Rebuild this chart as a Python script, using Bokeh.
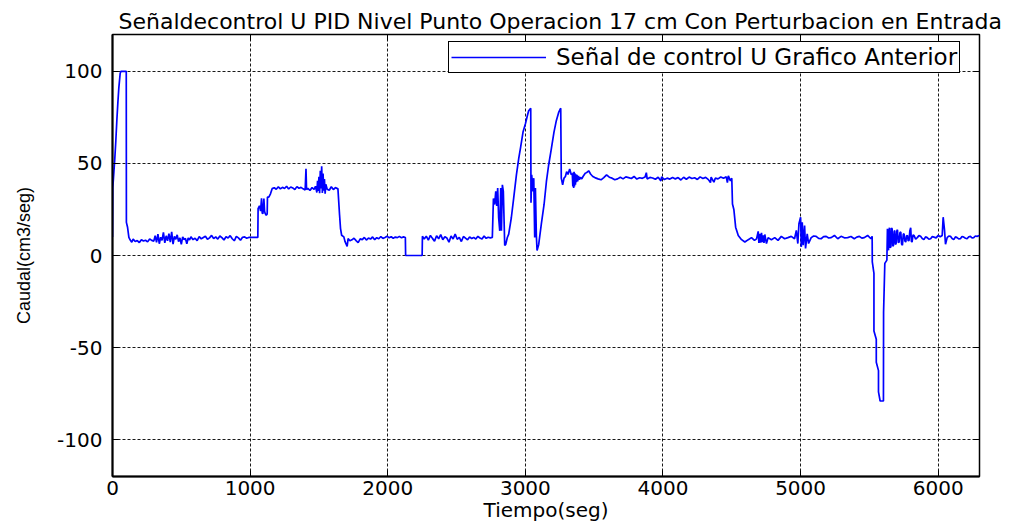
from bokeh.plotting import figure
from bokeh.models import Range1d, LinearAxis, FixedTicker, Legend, LegendItem, PrintfTickFormatter
from bokeh.embed import file_html
from bokeh.resources import INLINE

# ---------------- data ----------------
tiempo = [
    0, 2, 7, 17, 24, 32, 39, 46, 56, 61, 100, 101, 109, 119, 129,
    140, 150, 165, 180, 195, 210, 225, 240, 255, 270, 285, 300,
    310, 320, 330, 340, 350, 360, 370, 380, 390, 400, 410, 420, 430, 440, 450, 460,
    470, 480, 490, 500, 510, 520, 530, 540, 550, 560, 570,
    585, 600, 615, 630, 645, 660, 675, 690, 705, 720, 735, 750, 765, 780, 795, 810,
    825, 840, 855, 870, 885, 900, 915, 930, 945, 960, 975, 990, 1020, 1050,
    1056, 1058, 1068, 1076, 1083, 1088, 1093, 1100, 1105, 1110, 1117, 1124, 1126, 1136, 1148, 1160,
    1175, 1190, 1205, 1220, 1235, 1250, 1265, 1280, 1295, 1310, 1325, 1340, 1355, 1370, 1385,
    1400, 1406, 1410, 1420, 1435, 1450, 1465, 1475, 1485, 1490, 1495, 1500, 1505, 1510, 1515,
    1520, 1525, 1530, 1535, 1540, 1545, 1550, 1560, 1575, 1590, 1605, 1620, 1635,
    1638, 1650, 1657, 1665, 1681, 1690, 1705, 1712, 1725,
    1740, 1755, 1770, 1785, 1800, 1815, 1830, 1845, 1860, 1875, 1890, 1905, 1920, 1935, 1950,
    1965, 1980, 1995, 2010, 2025, 2040, 2055, 2070, 2085, 2100, 2115, 2128,
    2130, 2250,
    2252, 2265, 2280, 2295, 2310, 2325, 2340, 2355, 2370, 2385, 2400, 2415, 2430, 2445, 2460,
    2475, 2490, 2505, 2520, 2535, 2550, 2565, 2580, 2595, 2610, 2625, 2640, 2655, 2670, 2685,
    2700, 2715, 2730, 2745, 2760,
    2768, 2777, 2785, 2792, 2799, 2806, 2814, 2821, 2826, 2833, 2840, 2850, 2857, 2869, 2879,
    2898, 2915, 2935, 2952, 2966, 2983, 3000, 3015, 3024, 3039,
    3041, 3046, 3056, 3061, 3068, 3073, 3080, 3085, 3097, 3116, 3136, 3153, 3169, 3189, 3208,
    3225, 3242, 3257, 3261,
    3271, 3281, 3291, 3300, 3310, 3322, 3334, 3341, 3345, 3348, 3351, 3354, 3357, 3360, 3364,
    3367, 3371, 3375, 3380, 3386, 3393, 3400, 3410, 3419, 3435, 3445, 3460, 3475, 3490, 3505,
    3528, 3550, 3570, 3590, 3610, 3630, 3650, 3670, 3690, 3710, 3730, 3750, 3770, 3790, 3810,
    3830, 3850, 3870, 3879, 3885, 3905, 3925, 3945, 3965, 3985, 3990, 4010, 4030, 4050, 4070,
    4090, 4110, 4130, 4150, 4170, 4190, 4210, 4230, 4250, 4270, 4290, 4310, 4330, 4345, 4350,
    4370, 4380, 4400, 4420, 4440, 4460, 4468, 4475, 4490, 4500,
    4505, 4515, 4528, 4547, 4571, 4595, 4620, 4643, 4665, 4680,
    4692, 4697, 4704, 4710, 4716, 4722, 4728, 4734, 4740, 4752, 4764, 4788, 4812, 4836, 4860,
    4884, 4908, 4932, 4956, 4969, 4980, 4988, 5000, 5005, 5012, 5019, 5029, 5036, 5048, 5058,
    5077, 5095, 5113, 5131, 5149, 5167, 5186, 5204, 5222, 5246, 5270, 5294, 5318, 5342, 5366,
    5390, 5408, 5427, 5445, 5463, 5487, 5511, 5520,
    5521, 5533, 5533, 5550, 5550, 5566, 5566, 5578, 5602, 5603, 5612, 5627,
    5631, 5635, 5639, 5643, 5646, 5651, 5656, 5660, 5665, 5670, 5675, 5680, 5684, 5689, 5694,
    5699, 5704, 5710, 5716, 5722, 5728, 5734, 5740, 5746, 5752, 5758, 5764, 5770, 5776, 5782,
    5788, 5794, 5800, 5805, 5810, 5817, 5824, 5836, 5848, 5860, 5872, 5884, 5896, 5908, 5920,
    5932, 5945, 5957, 5969, 5985, 6000, 6015, 6029, 6036, 6046, 6053, 6065, 6077, 6089, 6101,
    6113, 6125, 6137, 6149, 6161, 6173, 6186, 6198, 6210, 6222, 6234, 6246, 6258, 6270, 6282,
    6300,
]

caudal = [
    10, 37, 42, 53, 62, 74, 83, 91, 99, 100, 100, 18, 15.5, 9.8, 8.4,
    7.2, 8.9, 7.6, 8.1, 7.0, 8.6, 7.9, 8.3, 7.4, 9.0, 8.2, 7.8,
    10.8, 7.1, 11.6, 6.4, 9.9, 8.2, 12.5, 6.9, 10.7, 8.0, 11.9, 7.3, 12.8, 6.2, 10.4, 8.8,
    11.2, 7.5, 9.6, 6.0, 10.1, 8.7, 9.2, 6.3, 9.5, 8.4, 10.2,
    8.6, 9.4, 8.1, 10.3, 9.0, 9.8, 10.5, 8.8, 9.6, 10.9, 9.2, 10.1, 8.9, 10.6, 9.7, 8.4,
    10.2, 9.5, 10.8, 9.1, 8.0, 10.4, 9.6, 8.3, 9.9, 10.1, 9.4, 9.8, 9.8, 9.8,
    9.8, 25.5, 27, 24.1, 31, 23, 22.7, 30.9, 24, 22.7, 21.8, 22.5, 31.7, 31.7, 33.5, 36.3,
    36.8, 36.0, 37.3, 36.2, 37.0, 36.4, 37.6, 36.1, 37.2, 36.7, 35.8, 37.4, 36.5, 37.0, 36.2,
    35.6, 47.1, 35.8, 36.4, 35.3, 36.9, 35.9, 37.6, 34.2, 40.5, 35.0, 42.8, 33.8, 46.0, 36.4,
    48.4, 34.0, 44.5, 35.2, 41.5, 33.6, 38.7, 36.0, 35.4, 37.3, 35.8, 36.9, 36.3,
    36.3, 22, 14.6, 11, 10.1, 7.5, 5.0, 9.2, 8.0,
    8.5, 9.4, 8.1, 7.0, 9.0, 8.6, 9.8, 8.4, 9.5, 8.9, 10.1, 8.6, 9.7, 9.1, 10.3,
    9.3, 9.8, 10.5, 9.6, 10.2, 9.4, 10.0, 9.7, 10.4, 9.6, 10.1, 9.8,
    0, 0,
    10.4, 9.0, 10.5, 8.4, 10.9, 9.3, 7.8, 10.7, 9.1, 11.3, 8.6, 10.2, 9.5, 7.2, 10.6,
    9.0, 11.6, 8.8, 9.9, 7.6, 10.3, 9.4, 8.5, 10.1, 9.2, 9.8, 8.9, 10.4, 9.5, 9.0,
    10.6, 9.3, 9.9, 9.6, 9.8,
    31, 27.7, 34.8, 26.9, 36.6, 20.5, 13.4, 36.6, 13.4, 38.4, 34.8, 5.4, 6.0, 9.8, 11.6,
    20.5, 31, 43.8, 52.7, 59, 67, 71.4, 76, 78.6, 80,
    28.6, 43.8, 34.8, 42, 9.8, 36.6, 10.7, 2.7, 6, 17, 27.7, 40.2, 49, 58, 67,
    73.2, 77.7, 80, 42,
    38.4, 42, 42.9, 45.5, 44, 47, 43.8, 44.6, 37.5, 45, 36.6, 45.5, 37.5, 44.6, 38.4,
    44.1, 39.8, 43.8, 40.2, 43.2, 41.1, 42.5, 41.6, 42.9, 44.6, 45.0, 46.0, 44.1, 42.9, 42.3,
    41.6, 41.1, 42.3, 43.8, 42.5, 42.0, 41.1, 41.6, 42.5, 41.6, 42.7, 42.3, 41.8, 42.9, 41.5,
    42.2, 41.9, 42.6, 45.0, 41.6, 42.4, 42.1, 41.4, 42.5, 40.5, 42.7, 41.2, 42.0, 41.5, 42.4,
    41.6, 42.3, 41.0, 42.5, 41.4, 42.6, 41.8, 42.2, 41.3, 42.7, 41.8, 42.4, 41.2, 39.6, 42.5,
    39.8, 42.0, 41.6, 42.6, 41.9, 42.7, 39.6, 43.2, 40.5, 42.0,
    28, 25, 15.4, 10.9, 8.6, 7.3, 8.6, 9.7, 8.2, 9.0,
    13.1, 6.8, 11.8, 7.0, 12.3, 7.3, 10.9, 6.9, 11.4, 6.5, 9.7, 8.6, 9.7, 8.2, 10.4,
    9.1, 9.7, 10.4, 9.1, 13.6, 6.5, 17.2, 20.8, 4.7, 18.1, 5.6, 16.3, 3.8, 11.8, 6.5,
    9.7, 10.6, 10.4, 9.3, 9.1, 10.2, 10.4, 9.5, 9.7, 10.9, 9.1, 10.4, 9.6, 9.7, 10.3,
    9.1, 10.0, 10.4, 9.4, 9.7, 10.9, 9.1, 10.4,
    -3.4, -9.7, -41, -45.5, -58, -62.5, -74, -79, -79, -31, -4.3, -2.5,
    14.5, 3.4, 2.9, 13.8, 15.1, 4.2, 4.7, 14.9, 14.5, 5.0, 5.6, 13.0, 13.6, 6.0, 6.5,
    13.2, 14.0, 7.0, 7.3, 12.5, 12.7, 6.2, 5.6, 11.5, 11.8, 7.9, 7.3, 10.6, 10.9, 8.0,
    8.2, 13.5, 15.1, 7.8, 7.3, 11.2, 10.9, 8.9, 9.7, 10.8, 10.4, 9.2, 8.6, 10.1, 9.7,
    8.9, 9.1, 10.3, 10.0, 9.6, 10.9, 10.2, 10.9, 20.8, 13.6, 6.1, 9.7, 10.6, 10.4, 9.2,
    8.6, 10.1, 9.7, 9.0, 9.1, 10.3, 10.0, 9.4, 9.1, 10.2, 10.4, 9.5, 9.7, 10.6, 10.4,
    10.9,
]

x_ticks = [0, 1000, 2000, 3000, 4000, 5000, 6000]
y_ticks = [-100, -50, 0, 50, 100]

titulo = "Señaldecontrol U PID Nivel Punto Operacion 17 cm Con Perturbacion en Entrada"
etiqueta_x = "Tiempo(seg)"
etiqueta_y = "Caudal(cm3/seg)"
leyenda = "Señal de control U Grafico Anterior"

FONT = "DejaVu Sans"

p = figure(
    frame_width=867, frame_height=442,
    x_range=Range1d(0, 6300), y_range=Range1d(-120, 120),
    output_backend="svg", toolbar_location=None,
    min_border_left=112, min_border_right=30, min_border_top=34, min_border_bottom=51,
    background_fill_color="white", border_fill_color="white",
)

p.title.text = titulo
p.title.text_font = FONT
p.title.text_font_size = "22px"
p.title.text_font_style = "normal"
p.title.text_color = "black"
p.title.align = "left"
p.title.offset = 6
p.title.standoff = 2

p.outline_line_color = "black"
p.outline_line_width = 1.5
p.outline_line_alpha = 1

r = p.line(tiempo, caudal, line_color="#0000ff", line_width=1.7)

for ax in (p.xaxis[0], p.yaxis[0]):
    ax.major_label_text_font = FONT
    ax.major_label_text_font_size = "20px"
    ax.major_label_text_color = "black"
    ax.major_tick_in = 6
    ax.major_tick_out = 0
    ax.minor_tick_in = 0
    ax.minor_tick_out = 0
    ax.axis_line_color = "black"
    ax.axis_line_width = 2
    ax.major_tick_line_color = "black"
    ax.axis_label_text_font_style = "normal"
    ax.axis_label_text_color = "black"
    ax.formatter = PrintfTickFormatter(format="%d")

p.xaxis[0].ticker = FixedTicker(ticks=x_ticks)
p.yaxis[0].ticker = FixedTicker(ticks=y_ticks)
p.xaxis[0].axis_label = etiqueta_x
p.xaxis[0].axis_label_text_font = FONT
p.xaxis[0].axis_label_text_font_size = "20px"
p.xaxis[0].major_label_standoff = 4
p.xaxis[0].axis_label_standoff = 0
p.yaxis[0].axis_label = etiqueta_y
p.yaxis[0].axis_label_text_font = "Liberation Sans"
p.yaxis[0].axis_label_text_font_size = "18px"
p.yaxis[0].major_label_standoff = 10
p.yaxis[0].axis_label_standoff = 20

# box axes on top and right (inward ticks only, no labels)
top_ax = LinearAxis(ticker=FixedTicker(ticks=x_ticks),
                    major_label_overrides={t: "" for t in x_ticks},
                    major_tick_in=6, major_tick_out=0, minor_tick_in=0, minor_tick_out=0,
                    axis_line_color=None, major_label_standoff=0)
right_ax = LinearAxis(ticker=FixedTicker(ticks=y_ticks),
                      major_label_overrides={t: "" for t in y_ticks},
                      major_tick_in=6, major_tick_out=0, minor_tick_in=0, minor_tick_out=0,
                      axis_line_color=None, major_label_standoff=0)
p.add_layout(top_ax, "above")
p.add_layout(right_ax, "right")

for g in (p.xgrid[0], p.ygrid[0]):
    g.grid_line_color = "black"
    g.grid_line_dash = "3 2"
    g.grid_line_width = 1
    g.grid_line_alpha = 0.9
p.xgrid[0].ticker = FixedTicker(ticks=x_ticks)
p.ygrid[0].ticker = FixedTicker(ticks=y_ticks)

legend = Legend(
    items=[LegendItem(label=leyenda, renderers=[r])],
    location=(336, 403),
    label_text_font=FONT, label_text_font_size="23px", label_text_color="black",
    glyph_width=95, glyph_height=20, label_standoff=10, label_height=20,
    padding=2, margin=0, spacing=0,
    border_line_color="black", border_line_width=1, border_line_alpha=1,
    background_fill_color="white", background_fill_alpha=1,
)
p.add_layout(legend)

open("out.html", "w").write(file_html(p, INLINE))
